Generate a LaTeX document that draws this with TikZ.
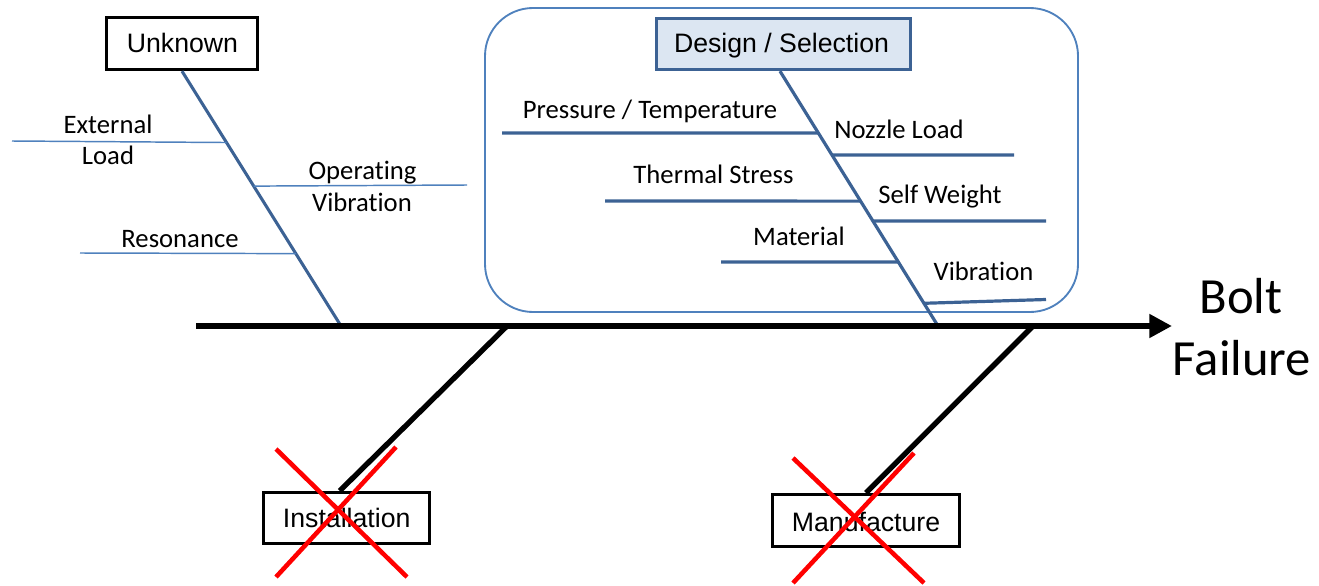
\documentclass[tikz,border=0pt]{standalone}
\usepackage{fontspec}
\setmainfont[Ligatures=NoCommon]{Carlito}
\newfontfamily\arialf{Liberation Sans}
\usetikzlibrary{arrows.meta,calc}
\definecolor{boneblue}{RGB}{60,98,148}
\definecolor{thinblue}{RGB}{79,129,189}
\definecolor{boxfill}{RGB}{220,230,242}
\definecolor{xred}{RGB}{255,0,0}
\tikzset{
  lbl/.style={anchor=base,inner sep=0pt,font=\fontsize{20}{24}\selectfont},
  catbox/.style={draw=black,line width=2.5pt,fill=white,inner sep=0pt,font=\arialf\fontsize{20}{24}\selectfont},
  dsbox/.style={draw=boneblue,line width=2.5pt,fill=boxfill,inner sep=0pt,font=\arialf\fontsize{20}{24}\selectfont},
  bone/.style={draw=boneblue,line width=2.3pt},
  subline/.style={draw=boneblue,line width=2.4pt},
  thinline/.style={draw=thinblue,line width=1.1pt},
  blackbone/.style={draw=black,line width=4pt},
  spine/.style={draw=black,line width=4.6pt,-{Triangle[length=17pt,width=17pt]}},
  cross/.style={draw=xred,line width=3.4pt},
  group/.style={draw=thinblue,line width=1.4pt,rounded corners=36pt},
  txtonly/.style={anchor=base,inner sep=0pt}
}
\begin{document}
\begin{tikzpicture}[x=0.75pt,y=-0.75pt]
\useasboundingbox (0,0) rectangle (1319,585);
% group frame
\draw[group] (485,8) rectangle (1078,312);
% category boxes
\node[catbox,minimum width=113.25pt,minimum height=39pt] (unk) at (182,43.5) {};
\node[dsbox,minimum width=190.5pt,minimum height=38.25pt] (ds) at (783.5,44) {};
\node[catbox,minimum width=124.5pt,minimum height=38.25pt] (inst) at (346.5,518) {};
\node[catbox,minimum width=140.25pt,minimum height=39pt] (man) at (866,520.5) {};
% spine coordinates
\coordinate (sA) at (196,326);
\coordinate (sB) at (1172,326);
\coordinate (s1) at (341,326);
\coordinate (s2) at (938,326);
\coordinate (s3) at (507,326);
\coordinate (s4) at (1033,326);
\coordinate (dtop) at ($(ds.south)+(-3.5,0)$);
% Unknown bone and sublines
\draw[bone] (unk.south) -- (s1);
\coordinate (extL) at (12,141);
\coordinate (opR) at (467,185);
\coordinate (resL) at (80,253);
\draw[thinline] (extL) -- ($(unk.south)!0.280!(s1)$);
\draw[thinline] ($(unk.south)!0.451!(s1)$) -- (opR);
\draw[thinline] (resL) -- ($(unk.south)!0.716!(s1)$);
% Design bone and sublines
\draw[bone,line width=2.4pt] (dtop) -- (s2);
\coordinate (ptL) at (502,133);
\coordinate (nzR) at (1014,155);
\coordinate (tsL) at (605,201);
\coordinate (swR) at (1046,221);
\coordinate (maL) at (721,262);
\coordinate (viR) at (1046,299.5);
\draw[subline] (ptL) -- ($(dtop)!0.243!(s2)$);
\draw[subline] ($(dtop)!0.329!(s2)$) -- (nzR);
\draw[subline] (tsL) -- ($(dtop)!0.510!(s2)$);
\draw[subline] ($(dtop)!0.588!(s2)$) -- (swR);
\draw[subline] (maL) -- ($(dtop)!0.749!(s2)$);
\draw[subline] ($(dtop)!0.905!(s2)+(1,1.5)$) -- (viR);
% lower bones
\draw[blackbone] (s3) -- ($(inst.north west)!0.46!(inst.north east)$);
\draw[blackbone] (s4) -- (man.north);
% spine
\draw[spine] (sA) -- (sB);
% box texts
\node[txtonly,font=\arialf\fontsize{20}{24}\selectfont] at (182.5,53) {Unknown};
\node[txtonly,font=\arialf\fontsize{20}{24}\selectfont] at (781.5,53) {Design / Selection};
\node[txtonly,font=\arialf\fontsize{20}{24}\selectfont] at (346.7,527) {Installation};
\node[txtonly,font=\arialf\fontsize{20}{24}\selectfont] at (866,531) {Manufacture};
% labels
\node[lbl] (t1) at (108,133) {External};
\node[lbl] (t2) at (108,164) {Load};
\node[lbl] (t3) at (362.5,179) {Operating};
\node[lbl] (t4) at (362,211) {Vibration};
\node[lbl] (t5) at (180,247) {Resonance};
\node[lbl] (t6) at (650,118) {Pressure / Temperature};
\node[lbl] (t7) at (899,138) {Nozzle Load};
\node[lbl] (t8) at (713.5,183) {Thermal Stress};
\node[lbl] (t9) at (940,203) {Self Weight};
\node[lbl] (t10) at (799,245) {Material};
\node[lbl] (t11) at (983.5,280) {Vibration};
\node[txtonly,font=\fontsize{38}{46}\selectfont] (bf1) at (1241,313) {Bolt};
\node[txtonly,font=\fontsize{38}{46}\selectfont] (bf2) at (1242,375) {Failure};
% red crosses
\draw[cross] (276,449) -- (407,577);
\draw[cross] (396,447) -- (276,577);
\draw[cross] (793,458) -- (924,583);
\draw[cross] (914,453) -- (793,583);
\end{tikzpicture}
\end{document}
